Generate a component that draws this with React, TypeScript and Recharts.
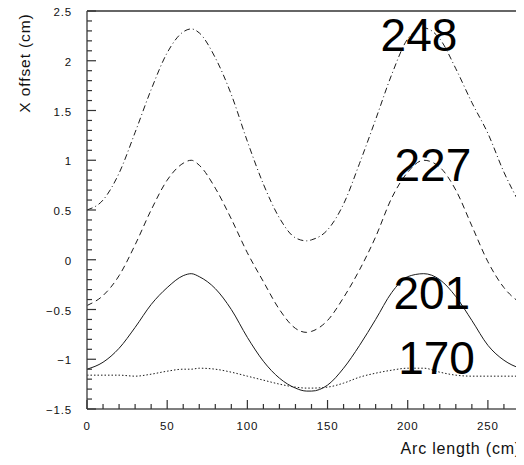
import React from 'react';
import { LineChart, Line, XAxis, YAxis, ReferenceLine, ReferenceDot } from 'recharts';

// Arc length samples (cm) shared by every curve
const ARC_LENGTH = [0, 10, 20, 30, 40, 50, 60, 65, 70, 80, 90, 100, 110, 120, 130, 137, 140, 150, 160, 170, 180, 190, 200, 210, 220, 230, 240, 250, 260, 270, 272];

// X offset (cm) of each trajectory along the arc
const OFFSET_248 = [0.5, 0.6, 0.87, 1.28, 1.71, 2.08, 2.29, 2.32, 2.28, 2.03, 1.66, 1.19, 0.76, 0.42, 0.22, 0.19, 0.2, 0.3, 0.56, 0.97, 1.41, 1.86, 2.22, 2.33, 2.22, 1.92, 1.58, 1.27, 0.88, 0.56, 0.5];
const OFFSET_227 = [-0.46, -0.36, -0.16, 0.15, 0.5, 0.8, 0.97, 1.0, 0.95, 0.72, 0.41, 0.07, -0.22, -0.5, -0.69, -0.73, -0.72, -0.61, -0.38, -0.1, 0.23, 0.62, 0.88, 1.0, 0.93, 0.7, 0.34, -0.02, -0.28, -0.43, -0.45];
const OFFSET_201 = [-1.1, -1.03, -0.89, -0.68, -0.45, -0.28, -0.16, -0.14, -0.17, -0.29, -0.5, -0.78, -1.02, -1.19, -1.29, -1.32, -1.32, -1.26, -1.09, -0.86, -0.6, -0.33, -0.17, -0.14, -0.2, -0.37, -0.61, -0.86, -1.01, -1.09, -1.1];
const OFFSET_170 = [-1.16, -1.16, -1.16, -1.17, -1.15, -1.12, -1.1, -1.1, -1.09, -1.1, -1.13, -1.17, -1.21, -1.25, -1.28, -1.29, -1.29, -1.28, -1.24, -1.18, -1.14, -1.11, -1.09, -1.09, -1.13, -1.16, -1.17, -1.17, -1.17, -1.17, -1.17];

// Curve names and the anchor (centre x, baseline y) of each name
const CURVE_NAMES = ['248', '227', '201', '170'];
const NAME_X = [207, 215.7, 215, 218];
const NAME_Y = [2.1, 0.79, -0.49, -1.15];

// Axis ticks
const X_MAJOR = [0, 50, 100, 150, 200, 250];
const Y_MAJOR = [-1.5, -1, -0.5, 0, 0.5, 1, 1.5, 2, 2.5];
const X_DOMAIN: [number, number] = [0, 280];
const Y_DOMAIN: [number, number] = [-1.5, 2.5];

const xTicks: number[] = [];
for (let i = 0; i <= 28; i++) xTicks.push(i * 10);
const yTicks: number[] = [];
for (let i = -15; i <= 25; i++) yTicks.push(i / 10);

const rows = ARC_LENGTH.map((s, i) => ({
  s,
  c248: OFFSET_248[i],
  c227: OFFSET_227[i],
  c201: OFFSET_201[i],
  c170: OFFSET_170[i],
}));

const FONT = '"Liberation Sans", Arial, Helvetica, sans-serif';
const AXIS = '#555';
const TICK = '#333';
const INK = '#1a1a1a';
const MINOR = 5; // inward length of unlabelled ticks
const MAJOR = 9; // inward length of labelled ticks

const isMajorY = (v: number) => Y_MAJOR.some((m) => Math.abs(m - v) < 1e-6);
const fmtY = (v: number) => {
  const r = Math.round(v * 10) / 10;
  return (r < 0 ? '\u2212' : '') + String(Math.abs(r));
};

// Ticks are filled bars pointing into the plot; labels sit outside
const XTick = (props: any) => {
  const { x, y, payload } = props;
  const v = payload.value as number;
  const major = X_MAJOR.includes(v);
  const px = Number(x);
  const py = Number(y);
  const len = major ? MAJOR : MINOR;
  return (
    <g>
      <rect x={px - 0.6} y={py - len} width={1.2} height={len} fill={TICK} />
      {major && (
        <text x={px} y={py + 21} textAnchor="middle" fontFamily={FONT} fontSize={11.5} letterSpacing={0.8} fill="#111">
          {v}
        </text>
      )}
    </g>
  );
};

const YTick = (props: any) => {
  const { x, y, payload } = props;
  const v = payload.value as number;
  const major = isMajorY(v);
  const px = Number(x);
  const py = Number(y);
  const len = major ? MAJOR : MINOR;
  return (
    <g>
      <rect x={px} y={py - 0.6} width={len} height={1.2} fill={TICK} />
      {major && (
        <text x={px - 15} y={py + 5} textAnchor="end" fontFamily={FONT} fontSize={11.5} letterSpacing={0.8} fill="#111">
          {fmtY(v)}
        </text>
      )}
    </g>
  );
};

const CurveName = (label: string) => (p: any) => (
  <text x={p.cx} y={p.cy} textAnchor="middle" fontFamily={FONT} fontSize={46} fill="#000">
    {label}
  </text>
);

export default function App() {
  return (
    <div style={{ width: 516, height: 457, overflow: 'hidden', marginBottom: -8 }}>
      <LineChart width={560} height={457} data={rows} margin={{ top: 3, right: 32, bottom: 0, left: 0 }}>
        <XAxis
          dataKey="s"
          type="number"
          domain={X_DOMAIN}
          ticks={xTicks}
          interval={0}
          height={56}
          tickSize={0}
          tickMargin={0}
          tickLine={false}
          axisLine={{ stroke: AXIS, strokeWidth: 1.5 }}
          tick={(p: any) => <XTick {...p} />}
          allowDataOverflow
          label={{
            content: () => (
              <text x={513} y={446} textAnchor="end" fontFamily={FONT} fontSize={16} letterSpacing={0.8} fill="#111">
                Arc length (cm)
              </text>
            ),
          }}
        />
        <YAxis
          type="number"
          domain={Y_DOMAIN}
          ticks={yTicks}
          interval={0}
          width={79}
          tickSize={0}
          tickMargin={0}
          tickLine={false}
          axisLine={{ stroke: AXIS, strokeWidth: 1.5 }}
          tick={(p: any) => <YTick {...p} />}
          allowDataOverflow
          label={{
            content: () => (
              <text
                x={16}
                y={55}
                transform="rotate(-90, 16, 55)"
                textAnchor="middle"
                dominantBaseline="central"
                fontFamily={FONT}
                fontSize={15.5}
                letterSpacing={0.9}
                fill="#111"
              >
                X offset (cm)
              </text>
            ),
          }}
        />
        <ReferenceLine y={2.5} stroke="#333" strokeWidth={1.3} />
        <Line type="monotone" dataKey="c248" stroke={INK} strokeWidth={1} strokeDasharray="6 3 1 3" dot={false} isAnimationActive={false} />
        <Line type="monotone" dataKey="c227" stroke={INK} strokeWidth={1} strokeDasharray="6 4" dot={false} isAnimationActive={false} />
        <Line type="monotone" dataKey="c201" stroke={INK} strokeWidth={1} dot={false} isAnimationActive={false} />
        <Line type="monotone" dataKey="c170" stroke={INK} strokeWidth={1} strokeDasharray="1.5 2" dot={false} isAnimationActive={false} />
        {CURVE_NAMES.map((name, i) => (
          <ReferenceDot key={name} x={NAME_X[i]} y={NAME_Y[i]} r={0} shape={CurveName(name)} />
        ))}
      </LineChart>
    </div>
  );
}
